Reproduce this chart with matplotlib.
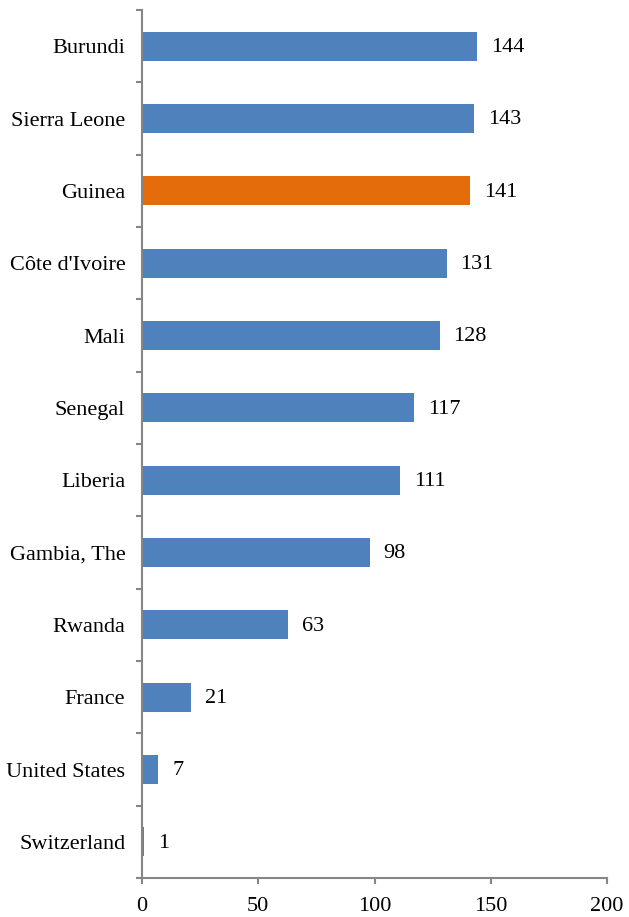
import matplotlib.pyplot as plt
import numpy as np

plt.rcParams['font.family'] = ['Liberation Serif', 'DejaVu Serif']

countries = ['Burundi', 'Sierra Leone', 'Guinea', "Côte d'Ivoire", 'Mali', 'Senegal',
             'Liberia', 'Gambia, The', 'Rwanda', 'France', 'United States', 'Switzerland']
values = [144, 143, 141, 131, 128, 117, 111, 98, 63, 21, 7, 1]
highlight = 'Guinea'

blue = '#4F81BD'
orange = '#E46C0A'
axis_color = '#868686'

fig = plt.figure(figsize=(6.29, 9.17), dpi=100)
ax = fig.add_axes([0.2258, 0.0425, 0.965 - 0.2258, 0.989 - 0.0425])

y = np.arange(len(countries))[::-1]
colors = [orange if c == highlight else blue for c in countries]
ax.barh(y, values, height=0.4, color=colors)

for yi, v in zip(y, values):
    ax.annotate(str(v), (v, yi), xytext=(10, -1), textcoords='offset points',
                va='center', ha='left', fontsize=16)

ax.set_xlim(0, 200)
ax.set_ylim(-0.5, len(countries) - 0.5)
ax.set_xticks([0, 50, 100, 150, 200])
ax.set_yticks(y)
ax.set_yticklabels(countries)
ax.set_yticks(np.arange(-0.5, len(countries)), minor=True)

ax.tick_params(axis='y', which='major', length=0, pad=12, labelsize=16)
ax.tick_params(axis='y', which='minor', length=4.5, color=axis_color, width=1.5, direction='out')
ax.tick_params(axis='x', length=4, color=axis_color, width=1.5, pad=10, labelsize=16)

for s in ['top', 'right']:
    ax.spines[s].set_visible(False)
for s in ['left', 'bottom']:
    ax.spines[s].set_color(axis_color)
    ax.spines[s].set_linewidth(1.5)

plt.savefig('out.png', dpi=100)
